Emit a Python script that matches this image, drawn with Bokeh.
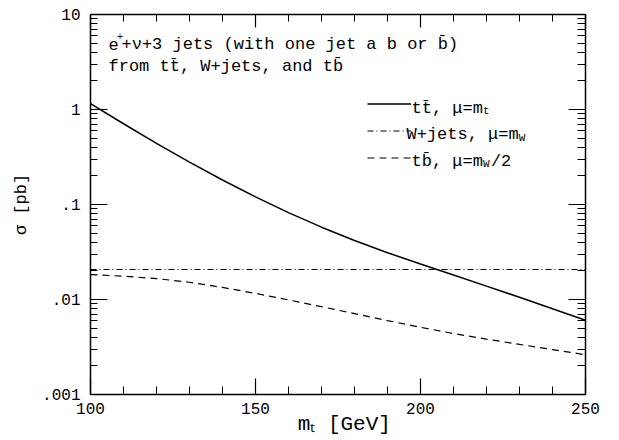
from bokeh.plotting import figure
from bokeh.models import (FixedTicker, LinearAxis, LogAxis, Label, Legend, LegendItem,
                          CustomJSTickFormatter, Range1d)
from bokeh.embed import file_html
from bokeh.resources import INLINE

# ---------------- data ----------------
mt = [100, 110, 120, 130, 140, 150, 160, 170, 180, 190, 200, 210, 220, 230, 240, 250]
sigma_ttbar = [1.156, 0.708, 0.4406, 0.2793, 0.1811, 0.1205, 0.0822, 0.0577, 0.0418, 0.0311,
               0.0236, 0.0181, 0.01384, 0.01054, 0.0080, 0.00604]
sigma_wjets = [0.0207, 0.0207, 0.0207, 0.0207, 0.0207, 0.0207, 0.0207, 0.0207, 0.0207,
               0.0207, 0.0207, 0.0207, 0.0207, 0.0207, 0.0207, 0.0207]
sigma_tbbar = [0.0183, 0.0176, 0.0166, 0.0152, 0.0134, 0.0116, 0.0099, 0.0084, 0.0071,
               0.0060, 0.0051, 0.00438, 0.00383, 0.00337, 0.00297, 0.00262]

x_ticks = [100, 150, 200, 250]
x_tick_labels = ["100", "150", "200", "250"]
x_minor_ticks = [110, 120, 130, 140, 160, 170, 180, 190, 210, 220, 230, 240]
y_ticks = [0.001, 0.01, 0.1, 1, 10]
y_tick_labels = [".001", ".01", ".1", "1", "10"]
y_minor_ticks = [k * 10.0 ** e for e in range(-3, 1) for k in range(2, 10)]

MONO = "Liberation Mono"

p = figure(frame_width=495, frame_height=380,
           min_border_left=90, min_border_right=26, min_border_top=14, min_border_bottom=46,
           x_range=Range1d(100, 250), y_range=Range1d(0.001, 10),
           y_axis_type="log", output_backend="svg", toolbar_location=None)
p.outline_line_color = None
p.xgrid.visible = False
p.ygrid.visible = False
p.background_fill_color = "white"

x_fmt = CustomJSTickFormatter(args=dict(vals=x_ticks, labs=x_tick_labels), code="""
for (let i = 0; i < vals.length; i++) { if (Math.abs(tick - vals[i]) < 1e-6) return labs[i]; }
return "";
""")
y_fmt = CustomJSTickFormatter(args=dict(vals=y_ticks, labs=y_tick_labels), code="""
for (let i = 0; i < vals.length; i++) {
  if (Math.abs(Math.log10(tick) - Math.log10(vals[i])) < 1e-6) return labs[i];
}
return "";
""")
blank_fmt = CustomJSTickFormatter(code='return "";')


def style_axis(ax, major_len, minor_len):
    ax.axis_line_width = 1.5
    ax.axis_line_color = "black"
    ax.major_tick_in = major_len
    ax.major_tick_out = 0
    ax.minor_tick_in = minor_len
    ax.minor_tick_out = 0
    ax.major_tick_line_width = 1.2
    ax.minor_tick_line_width = 1.0
    ax.major_tick_line_color = "black"
    ax.minor_tick_line_color = "black"
    ax.major_label_text_font = MONO
    ax.major_label_text_font_size = "16px"
    ax.major_label_text_color = "black"


xb = p.xaxis[0]
xb.ticker = FixedTicker(ticks=x_ticks, minor_ticks=x_minor_ticks)
xb.formatter = x_fmt
style_axis(xb, 16, 8)
xb.major_label_standoff = 8
xb.axis_label = "\u00a0m\u209c [GeV]"
xb.axis_label_text_font = MONO
xb.axis_label_text_font_size = "21px"
xb.axis_label_text_font_style = "normal"
xb.axis_label_text_color = "black"
xb.axis_label_standoff = -4

yl = p.yaxis[0]
yl.ticker = FixedTicker(ticks=y_ticks, minor_ticks=y_minor_ticks)
yl.formatter = y_fmt
style_axis(yl, 17, 7)
yl.major_label_standoff = 10
yl.axis_label = "σ [pb]"
yl.axis_label_text_font = MONO
yl.axis_label_text_font_size = "17px"
yl.axis_label_text_font_style = "normal"
yl.axis_label_text_color = "black"
yl.axis_label_standoff = 8

xt = LinearAxis(ticker=FixedTicker(ticks=x_ticks, minor_ticks=x_minor_ticks), formatter=blank_fmt)
style_axis(xt, 13, 7)
xt.major_label_standoff = 0
p.add_layout(xt, "above")
yr = LogAxis(ticker=FixedTicker(ticks=y_ticks, minor_ticks=y_minor_ticks), formatter=blank_fmt)
style_axis(yr, 17, 8)
yr.major_label_standoff = 0
p.add_layout(yr, "right")

# ---------------- curves ----------------
r_tt = p.line(mt, sigma_ttbar, line_color="black", line_width=1.5)
r_w = p.line(mt, sigma_wjets, line_color="black", line_width=1.2, line_dash="6 3 1 3")
r_tb = p.line(mt, sigma_tbbar, line_color="black", line_width=1.2, line_dash="7 5")

legend = Legend(items=[LegendItem(label=" ", renderers=[r_tt]),
                       LegendItem(label=" ", renderers=[r_w]),
                       LegendItem(label=" ", renderers=[r_tb])],
                location=(277, 226.5), glyph_width=44, glyph_height=21,
                label_height=21, label_width=1, label_standoff=0, spacing=6,
                padding=0, margin=0, border_line_color=None, background_fill_alpha=0,
                label_text_font_size="10px")
p.add_layout(legend)


# ---------------- texts (offsets from the frame's lower-left corner) ----------------
def txt(s, ox, oy, size, font=MONO):
    p.add_layout(Label(x=100, y=0.001, x_offset=ox, y_offset=oy, text=s,
                       text_font=font, text_font_size=size, text_color="black",
                       text_baseline="alphabetic", text_align="left"))


# annotation
txt("e", 18, 350, "17px")
txt("+", 26.5, 358, "10px")
txt("+\u03bd+3 jets (with one jet a b or b\u0304)", 31, 350, "17px")
txt("from tt\u0304, W+jets, and tb\u0304", 18, 328, "17px")

# legend texts
txt("tt\u0304, \u03bc=m", 321, 286.5, "17px")
txt("t", 321 + 7 * 10.2, 283.5, "11px")
txt("W+jets, \u03bc=m", 316, 260, "17px")
txt("W", 316 + 11 * 10.2, 257, "11px")
txt("tb\u0304, \u03bc=m", 321, 233.5, "17px")
txt("W", 321 + 7 * 10.2, 230.5, "11px")
txt("/2", 321 + 7 * 10.2 + 8, 233.5, "17px")

open("out.html", "w").write(file_html(p, INLINE))
